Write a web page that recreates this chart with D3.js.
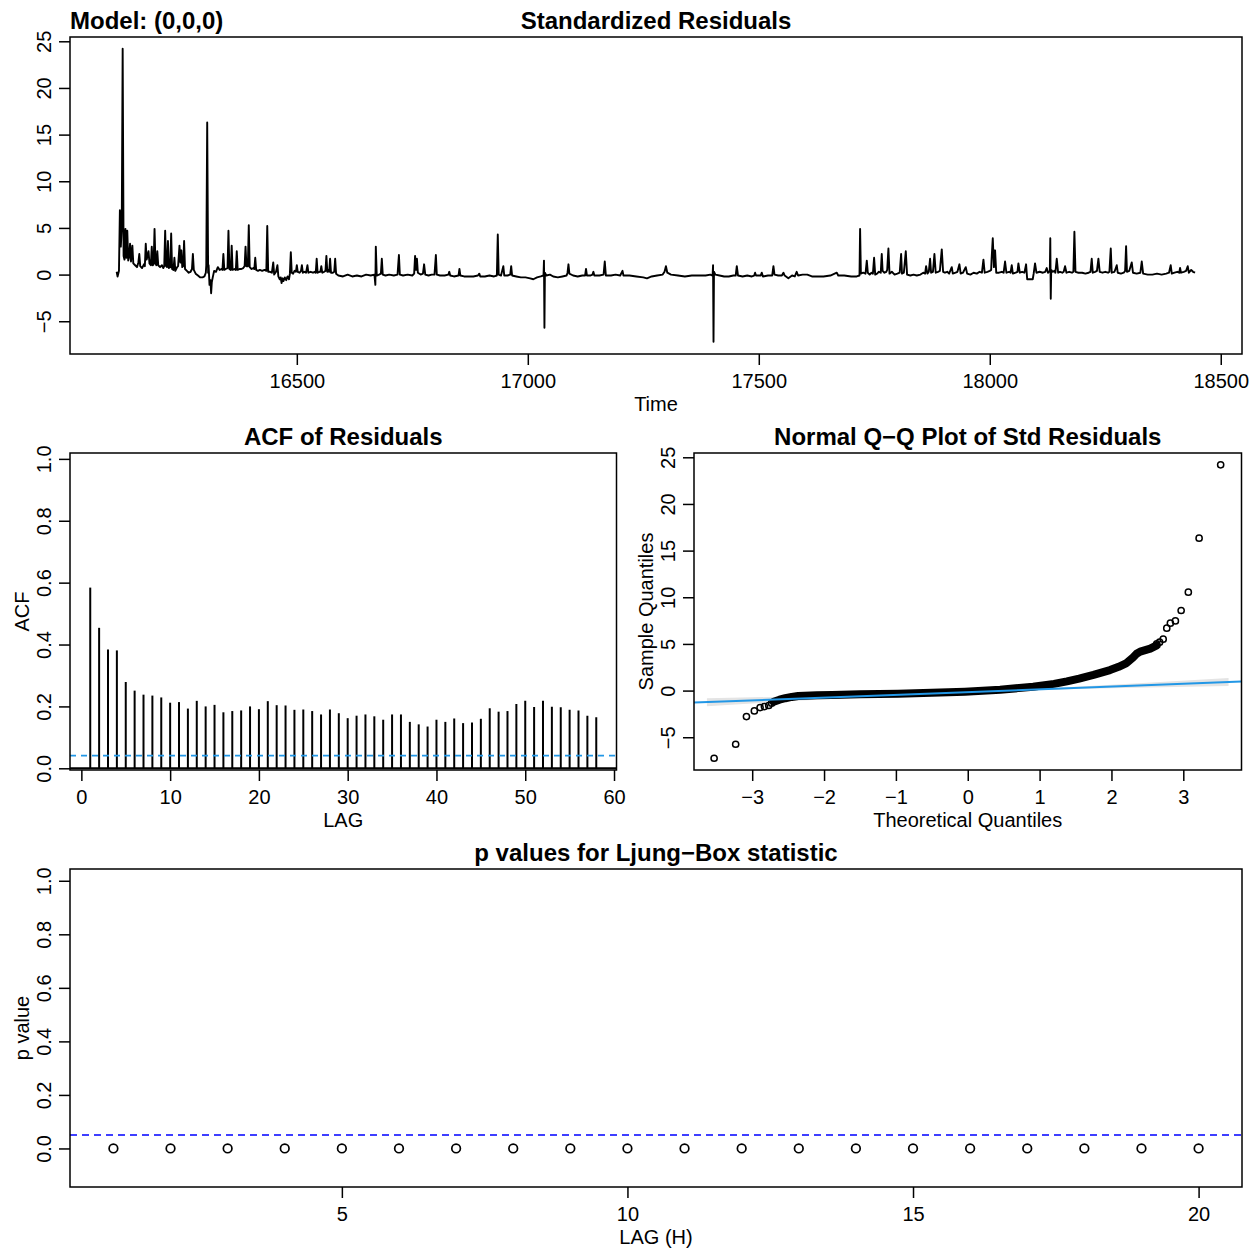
<!DOCTYPE html>
<html>
<head>
<meta charset="utf-8">
<script src="https://cdnjs.cloudflare.com/ajax/libs/d3/7.8.5/d3.min.js"></script>
<style>
  body { margin: 0; background: #fff; }
  svg text { font-family: "Liberation Sans", Arial, Helvetica, sans-serif; fill: #000; }
</style>
</head>
<body>
<script>
// standardized residuals, [time, value]
var stdResid = [
  [16110,0.3],[16112,-0.2],[16115,0.4],[16117,6.9],[16119,3.0],[16121,5.0],[16123,24.2],[16125,2.0],
  [16127,1.6],[16129,4.9],[16131,1.8],[16133,4.7],[16135,1.5],[16137,1.9],[16139,3.3],[16141,1.4],
  [16144,3.1],[16146,1.2],[16150,1.0],[16154,0.8],[16157,1.3],[16159,2.2],[16161,0.9],[16165,0.7],
  [16169,1.1],[16171,0.9],[16173,3.3],[16175,1.6],[16179,2.5],[16181,1.2],[16184,1.0],[16186,3.0],
  [16188,1.0],[16190,1.1],[16192,4.9],[16194,1.2],[16196,1.0],[16198,2.5],[16200,1.0],[16204,0.8],
  [16208,1.0],[16211,0.7],[16213,0.9],[16215,4.7],[16217,0.9],[16219,0.8],[16221,3.6],[16223,0.7],
  [16226,0.8],[16228,4.4],[16230,0.6],[16233,0.5],[16235,1.8],[16237,0.4],[16241,0.8],[16243,0.9],
  [16246,3.1],[16248,1.3],[16250,2.6],[16252,0.8],[16254,0.9],[16256,3.6],[16258,0.6],[16262,0.4],
  [16266,0.2],[16270,0.3],[16273,0.6],[16275,2.2],[16277,0.5],[16281,0.1],[16286,-0.1],[16291,-0.3],
  [16296,-0.3],[16300,-0.2],[16303,0.2],[16304,1.0],[16306,16.3],[16308,0.2],[16309,1.0],[16311,-1.1],
  [16313,-0.6],[16314.5,-2.0],[16316,-0.8],[16318,-0.3],[16321,0.4],[16325,0.3],[16329,0.8],[16333,0.5],
  [16337,0.6],[16339,0.5],[16341,2.2],[16343,0.5],[16346,0.6],[16350,0.7],[16352,4.7],[16354,0.6],
  [16357,0.5],[16359,3.1],[16361,0.5],[16365,0.6],[16368,0.5],[16370,2.5],[16372,0.5],[16376,0.6],
  [16380,0.6],[16384,0.7],[16387,0.9],[16389,3.0],[16391,0.9],[16394,0.9],[16396,5.3],[16398,0.8],
  [16402,0.6],[16406,0.7],[16408,0.6],[16410,1.8],[16412,0.5],[16416,0.4],[16420,0.5],[16425,0.4],
  [16430,0.5],[16434,0.4],[16436,5.2],[16438,0.3],[16442,0.3],[16446,0.2],[16449,1.3],[16451,0.0],
  [16455,0.3],[16458,1.0],[16460,-0.2],[16463,-0.5],[16465,-0.3],[16467,-0.9],[16469,-0.4],[16471,-0.7],
  [16474,-0.3],[16477,-0.6],[16480,-0.2],[16483,-0.5],[16485,0.1],[16487,2.4],[16489,0.2],[16492,0.1],
  [16495,0.4],[16498,0.3],[16500,1.0],[16502,0.3],[16506,0.2],[16509,0.4],[16511,1.0],[16513,0.2],
  [16517,0.3],[16520,0.2],[16523,1.0],[16525,0.2],[16530,0.3],[16535,0.2],[16539,0.3],[16541,0.2],
  [16543,1.7],[16545,0.2],[16549,0.3],[16551,0.3],[16553,0.9],[16555,0.2],[16559,0.3],[16562,0.4],
  [16564,2.0],[16566,0.3],[16568,0.5],[16570,0.3],[16572,1.7],[16574,0.2],[16578,0.2],[16581,0.3],
  [16583,1.7],[16585,0.1],[16590,-0.1],[16600,-0.2],[16610,0.0],[16620,-0.2],[16630,-0.1],[16640,-0.2],
  [16650,0.0],[16660,-0.1],[16668,0.0],[16670,-1.1],[16671,3.0],[16673,-0.1],[16678,0.0],[16682,0.1],
  [16684,1.7],[16686,0.0],[16692,-0.1],[16700,0.0],[16710,-0.1],[16718,0.0],[16721,2.1],[16723,0.0],
  [16730,-0.1],[16740,0.0],[16750,-0.1],[16754,0.1],[16756,2.0],[16758,0.5],[16760,1.7],[16762,0.2],
  [16768,0.0],[16773,0.1],[16775.5,1.1],[16778,0.0],[16785,-0.1],[16792,0.0],[16798,0.0],[16801,2.1],
  [16803,0.0],[16810,-0.1],[16820,-0.1],[16828,0.0],[16830,0.3],[16832,-0.1],[16840,-0.2],[16850,-0.1],
  [16852,0.6],[16854,-0.1],[16862,-0.2],[16872,-0.2],[16882,-0.2],[16892,-0.1],[16895,0.1],[16897,-0.2],
  [16907,-0.2],[16917,-0.1],[16927,-0.2],[16933,-0.1],[16935,4.3],[16937,0.0],[16942,-0.1],[16947,0.9],
  [16949,-0.1],[16956,-0.1],[16962,0.0],[16964,0.9],[16966,-0.1],[16975,-0.2],[16985,-0.3],[16995,-0.3],
  [17005,-0.4],[17012,-0.5],[17020,-0.3],[17028,-0.2],[17034,-0.1],[17035,1.5],[17036,-5.7],[17037,0.2],
  [17040,-0.1],[17048,0.0],[17055,-0.2],[17065,-0.3],[17075,-0.2],[17084,-0.1],[17086,0.2],[17088,1.1],
  [17090,0.1],[17098,-0.1],[17108,-0.2],[17118,-0.1],[17124,-0.1],[17126,0.6],[17128,-0.1],[17136,-0.1],
  [17140,0.0],[17142,0.3],[17144,-0.1],[17155,-0.1],[17164,0.0],[17166.6,1.4],[17169,-0.1],[17180,-0.1],
  [17190,0.0],[17200,-0.1],[17205,0.4],[17207,-0.1],[17220,-0.1],[17235,-0.2],[17250,-0.3],[17258,-0.4],
  [17268,-0.2],[17280,-0.1],[17292,0.0],[17296,0.3],[17299,0.9],[17302,0.2],[17310,0.0],[17325,-0.1],
  [17340,-0.2],[17355,-0.1],[17370,-0.1],[17385,-0.1],[17395,0.0],[17400,-0.1],[17401,1.0],[17402,-7.2],
  [17403,0.3],[17406,0.0],[17415,-0.1],[17425,-0.2],[17435,-0.2],[17445,-0.1],[17450,-0.1],[17452.4,0.9],
  [17455,-0.1],[17465,-0.2],[17475,-0.1],[17485,-0.2],[17490,-0.1],[17492,0.2],[17494,-0.1],[17504,-0.1],
  [17506.5,0.2],[17509,-0.2],[17520,-0.1],[17529,-0.1],[17531.7,0.9],[17534,0.0],[17542,-0.1],[17550,-0.1],
  [17553.4,0.2],[17556,-0.1],[17564,-0.4],[17572,-0.1],[17578,-0.2],[17582,0.3],[17585,-0.1],[17595,0.0],
  [17605,0.0],[17615,-0.2],[17625,-0.2],[17640,-0.2],[17655,-0.1],[17668.8,0.2],[17672,-0.1],[17685,-0.1],
  [17700,-0.2],[17712,-0.2],[17718,-0.1],[17719.3,4.9],[17721,0.1],[17726,0.2],[17731,0.1],[17733.8,1.5],
  [17736,0.2],[17740,0.0],[17744,0.2],[17747,0.1],[17749.6,1.8],[17752,0.0],[17756,0.1],[17760,0.3],
  [17764,0.2],[17766.2,2.2],[17768,0.4],[17772,0.2],[17776,0.3],[17778,0.5],[17780.6,2.8],[17783,0.1],
  [17788,0.3],[17794,0.0],[17800,0.1],[17805,0.2],[17808.1,2.2],[17810,0.1],[17814,0.2],[17818.2,2.5],
  [17821,0.0],[17828,-0.1],[17835,0.0],[17842,-0.1],[17850,0.0],[17856,0.2],[17860,0.1],[17862.2,0.9],
  [17865,0.1],[17868,0.3],[17870.8,1.7],[17873,0.2],[17877,0.3],[17880.2,2.2],[17883,0.2],[17888,0.3],
  [17892,0.4],[17896.1,2.7],[17899,0.3],[17903,0.2],[17908,0.3],[17912,0.1],[17917.7,0.8],[17920,0.1],
  [17926,0.2],[17930,0.3],[17934.3,1.1],[17937,0.1],[17942,0.2],[17948,0.8],[17951,0.1],[17958,0.0],
  [17965,0.2],[17972,0.1],[17978,0.3],[17983,0.2],[17986.3,1.6],[17989,0.2],[17995,0.3],[18000,0.4],
  [18003,0.5],[18004,1.7],[18006.5,3.9],[18009,0.8],[18011.5,2.6],[18014,0.2],[18020,0.2],[18026,0.3],
  [18030,0.2],[18033.1,1.4],[18036,0.2],[18042,0.3],[18045,0.2],[18047.6,1.0],[18050,0.1],[18056,0.2],
  [18060,0.3],[18062,1.2],[18065,0.2],[18070,0.3],[18075,0.2],[18078.6,1.1],[18081,-0.5],[18093,-0.5],
  [18095,0.1],[18098,1.2],[18101,0.2],[18108,0.3],[18115,0.2],[18120,0.3],[18123.3,0.7],[18126,0.2],
  [18130,0.4],[18131,3.9],[18132,-2.6],[18133,0.5],[18136,0.3],[18140,0.4],[18142,0.2],[18145,1.7],
  [18148,0.2],[18152,0.3],[18157,0.2],[18160,0.3],[18163,0.9],[18166,0.2],[18172,0.3],[18178,0.2],
  [18181,0.3],[18183.2,4.6],[18185.5,0.3],[18192,0.2],[18200,0.2],[18207,0.1],[18214,0.2],[18218,0.3],
  [18220.7,1.7],[18223,0.2],[18228,0.3],[18232,0.4],[18235.2,1.7],[18238,0.3],[18244,0.2],[18250,0.3],
  [18256,0.2],[18259,0.3],[18261.9,2.8],[18264,0.2],[18270,0.3],[18274.9,1.0],[18277,0.2],[18284,0.1],
  [18290,0.2],[18293,0.4],[18295.1,3.05],[18297,0.3],[18302,0.4],[18307.3,1.3],[18310,0.2],[18318,0.1],
  [18326,0.2],[18329,1.4],[18332,0.1],[18342,0.0],[18352,0.0],[18362,0.1],[18372,0.0],[18382,0.1],
  [18388,0.2],[18391.7,1.0],[18394,0.1],[18400,0.2],[18406,0.3],[18410,0.2],[18411.9,0.7],[18414,0.2],
  [18420,0.3],[18425,0.4],[18428.5,0.9],[18431,0.2],[18436,0.5],[18440,0.3],[18444.4,0.2]
];
var timeTicks = [16500, 17000, 17500, 18000, 18500];
var residTicks = [-5, 0, 5, 10, 15, 20, 25];

// ACF of residuals, lags 1..58
var acfValues = [
  0.584, 0.454, 0.384, 0.381, 0.279, 0.251, 0.238, 0.235, 0.229, 0.212,
  0.214, 0.193, 0.218, 0.200, 0.205, 0.181, 0.185, 0.187, 0.200, 0.191,
  0.217, 0.204, 0.203, 0.189, 0.190, 0.185, 0.174, 0.190, 0.178, 0.162,
  0.170, 0.174, 0.168, 0.157, 0.174, 0.174, 0.150, 0.142, 0.135, 0.157,
  0.150, 0.161, 0.146, 0.148, 0.160, 0.194, 0.183, 0.185, 0.208, 0.218,
  0.198, 0.218, 0.199, 0.197, 0.189, 0.187, 0.170, 0.165
];
var acfBound = 0.041;
var acfXTicks = [0, 10, 20, 30, 40, 50, 60];
var acfYTicks = [0, 0.2, 0.4, 0.6, 0.8, 1.0];

// normal Q-Q: isolated points, then the dense body traced as a curve
var qqTail = [
  [-3.53,-7.25],[-3.23,-5.75],[-3.08,-2.79],[-2.97,-2.18],[-2.89,-1.82],[-2.83,-1.71],[-2.77,-1.60],
  [-2.73,-1.35],[2.63,5.00],[2.67,5.19],[2.72,5.51],[2.77,6.69],[2.82,7.22],[2.89,7.47],[2.97,8.58],
  [3.07,10.55],[3.22,16.33],[3.52,24.19]
];
var qqBody = [
  [-2.70,-1.20],[-2.62,-0.98],[-2.54,-0.82],[-2.45,-0.68],[-2.36,-0.58],[-2.10,-0.50],[-1.89,-0.46],
  [-1.50,-0.40],[-0.97,-0.33],[-0.50,-0.24],[-0.04,-0.12],[0.45,0.08],[0.91,0.42],[1.20,0.72],
  [1.38,0.98],[1.55,1.28],[1.75,1.68],[1.98,2.20],[2.10,2.55],[2.21,2.95],[2.30,3.55],[2.35,3.95],
  [2.40,4.18],[2.54,4.50],[2.63,4.85]
];
var qqLineEnds = [[-3.81,-1.29],[3.81,0.97]];
var qqEnvQ = [-3.63, -2.5, -1.5, 0, 1.5, 2.5, 3.63];
var qqEnvLow = [-1.67, -1.15, -0.73, -0.21, 0.17, 0.33, 0.49];
var qqEnvHigh = [-0.81, -0.65, -0.49, -0.11, 0.41, 0.83, 1.35];
var qqXTicks = [-3, -2, -1, 0, 1, 2, 3];

// Ljung-Box p values
var lbLags = [1,2,3,4,5,6,7,8,9,10,11,12,13,14,15,16,17,18,19,20];
var lbPvalues = [0,0,0,0,0,0,0,0,0,0,0,0,0,0,0,0,0,0,0,0];
var lbLevel = 0.05;
var lbXTicks = [5, 10, 15, 20];
var lbYTicks = [0, 0.2, 0.4, 0.6, 0.8, 1.0];

var svg = d3.select("body").append("svg")
    .attr("width", 1260)
    .attr("height", 1252);

var clipId = 0;

function makePanel(box, xDom, yDom) {
    var p = {
        box: box,
        x: d3.scaleLinear().domain(xDom).range([box.l, box.r]),
        y: d3.scaleLinear().domain(yDom).range([box.b, box.t]),
        clip: "clip" + (clipId++)
    };
    svg.append("clipPath").attr("id", p.clip)
        .append("rect")
        .attr("x", box.l).attr("y", box.t)
        .attr("width", box.r - box.l).attr("height", box.b - box.t);
    p.g = svg.append("g").attr("clip-path", "url(#" + p.clip + ")");
    return p;
}

function drawFrame(p, xTicks, yTicks, xFmt, yFmt, xLabel, yLabel, title) {
    var box = p.box;

    var gx = svg.append("g")
        .attr("transform", "translate(0," + box.b + ")")
        .call(d3.axisBottom(p.x).tickValues(xTicks).tickSize(11).tickFormat(xFmt));
    gx.select(".domain").remove();
    gx.selectAll("line").attr("stroke", "#000").attr("stroke-width", 1.5);
    gx.selectAll("text")
        .attr("y", 34).attr("dy", null)
        .attr("font-size", 20)
        .attr("font-family", "Liberation Sans, Arial, sans-serif");

    var gy = svg.append("g")
        .attr("transform", "translate(" + box.l + ",0)")
        .call(d3.axisLeft(p.y).tickValues(yTicks).tickSize(11).tickFormat(yFmt));
    gy.select(".domain").remove();
    gy.selectAll("line").attr("stroke", "#000").attr("stroke-width", 1.5);
    gy.selectAll("text")
        .attr("x", null).attr("dy", null)
        .attr("text-anchor", "middle")
        .attr("transform", "translate(-19,0) rotate(-90)")
        .attr("font-size", 20)
        .attr("font-family", "Liberation Sans, Arial, sans-serif");

    svg.append("rect")
        .attr("x", box.l).attr("y", box.t)
        .attr("width", box.r - box.l).attr("height", box.b - box.t)
        .attr("fill", "none").attr("stroke", "#000").attr("stroke-width", 1.5);

    if (xLabel) {
        svg.append("text")
            .attr("x", (box.l + box.r) / 2).attr("y", box.b + 57)
            .attr("text-anchor", "middle").attr("font-size", 20)
            .text(xLabel);
    }
    if (yLabel) {
        svg.append("text")
            .attr("transform", "translate(" + (box.l - 41) + "," + ((box.t + box.b) / 2) + ") rotate(-90)")
            .attr("text-anchor", "middle").attr("font-size", 20)
            .text(yLabel);
    }
    svg.append("text")
        .attr("x", (box.l + box.r) / 2).attr("y", box.t - 8)
        .attr("text-anchor", "middle").attr("font-size", 24).attr("font-weight", "bold")
        .text(title);
}

var fmtInt = d3.format("d");
var fmt1 = d3.format(".1f");

// --- standardized residuals ---
var tsPanel = makePanel({l: 70, r: 1242, t: 37, b: 354}, [16009, 18546], [-8.51, 25.46]);
tsPanel.g.append("path")
    .datum(stdResid)
    .attr("fill", "none")
    .attr("stroke", "#000")
    .attr("stroke-width", 1.9)
    .attr("stroke-linejoin", "round")
    .attr("d", d3.line().x(function(d) { return tsPanel.x(d[0]); }).y(function(d) { return tsPanel.y(d[1]); }));
drawFrame(tsPanel, timeTicks, residTicks, fmtInt, fmtInt, "Time", null, "Standardized Residuals");
svg.append("text")
    .attr("x", 70).attr("y", 29)
    .attr("font-size", 24).attr("font-weight", "bold")
    .text("Model: (0,0,0)");

// --- ACF ---
var acfPanel = makePanel({l: 70, r: 616.5, t: 453, b: 770}, [-1.28, 60.28], [-0.0055, 1.019]);
acfPanel.g.selectAll("line.bar")
    .data(acfValues)
    .enter().append("line")
    .attr("class", "bar")
    .attr("x1", function(d, i) { return acfPanel.x(i + 1); })
    .attr("x2", function(d, i) { return acfPanel.x(i + 1); })
    .attr("y1", acfPanel.y(0))
    .attr("y2", function(d) { return acfPanel.y(d); })
    .attr("stroke", "#000").attr("stroke-width", 2);
acfPanel.g.append("line")
    .attr("x1", acfPanel.box.l).attr("x2", acfPanel.box.r)
    .attr("y1", acfPanel.y(0)).attr("y2", acfPanel.y(0))
    .attr("stroke", "#000").attr("stroke-width", 2);
acfPanel.g.append("line")
    .attr("x1", acfPanel.box.l).attr("x2", acfPanel.box.r)
    .attr("y1", acfPanel.y(acfBound)).attr("y2", acfPanel.y(acfBound))
    .attr("stroke", "#2297E6").attr("stroke-width", 1.6)
    .attr("stroke-dasharray", "6,5");
drawFrame(acfPanel, acfXTicks, acfYTicks, fmtInt, fmt1, "LAG", "ACF", "ACF of Residuals");

// --- normal Q-Q ---
var qqPanel = makePanel({l: 694, r: 1241.5, t: 453, b: 770}, [-3.81, 3.81], [-8.51, 25.46]);
var env = qqEnvQ.map(function(q, i) { return {q: q, lo: qqEnvLow[i], hi: qqEnvHigh[i]}; });
qqPanel.g.append("path")
    .datum(env)
    .attr("fill", "#e4e4e4")
    .attr("d", d3.area()
        .x(function(d) { return qqPanel.x(d.q); })
        .y0(function(d) { return qqPanel.y(d.lo); })
        .y1(function(d) { return qqPanel.y(d.hi); }));
qqPanel.g.append("path")
    .datum(qqBody)
    .attr("fill", "none").attr("stroke", "#000")
    .attr("stroke-width", 8).attr("stroke-linecap", "round").attr("stroke-linejoin", "round")
    .attr("d", d3.line().x(function(d) { return qqPanel.x(d[0]); }).y(function(d) { return qqPanel.y(d[1]); }));
qqPanel.g.selectAll("circle")
    .data(qqTail)
    .enter().append("circle")
    .attr("cx", function(d) { return qqPanel.x(d[0]); })
    .attr("cy", function(d) { return qqPanel.y(d[1]); })
    .attr("r", 3.1)
    .attr("fill", "none").attr("stroke", "#000").attr("stroke-width", 1.5);
qqPanel.g.append("line")
    .attr("x1", qqPanel.x(qqLineEnds[0][0])).attr("y1", qqPanel.y(qqLineEnds[0][1]))
    .attr("x2", qqPanel.x(qqLineEnds[1][0])).attr("y2", qqPanel.y(qqLineEnds[1][1]))
    .attr("stroke", "#2297E6").attr("stroke-width", 2);
drawFrame(qqPanel, qqXTicks, residTicks, fmtInt, fmtInt, "Theoretical Quantiles", "Sample Quantiles",
    "Normal Q\u2212Q Plot of Std Residuals");

// --- Ljung-Box ---
var lbPanel = makePanel({l: 70, r: 1242, t: 869, b: 1187}, [0.24, 20.76], [-0.144, 1.044]);
lbPanel.g.append("line")
    .attr("x1", lbPanel.box.l).attr("x2", lbPanel.box.r)
    .attr("y1", lbPanel.y(lbLevel)).attr("y2", lbPanel.y(lbLevel))
    .attr("stroke", "#0000FF").attr("stroke-width", 1.6)
    .attr("stroke-dasharray", "7,5");
lbPanel.g.selectAll("circle")
    .data(lbLags)
    .enter().append("circle")
    .attr("cx", function(d) { return lbPanel.x(d); })
    .attr("cy", function(d, i) { return lbPanel.y(lbPvalues[i]); })
    .attr("r", 4.3)
    .attr("fill", "none").attr("stroke", "#000").attr("stroke-width", 1.7);
drawFrame(lbPanel, lbXTicks, lbYTicks, fmtInt, fmt1, "LAG (H)", "p value", "p values for Ljung\u2212Box statistic");
</script>
</body>
</html>
